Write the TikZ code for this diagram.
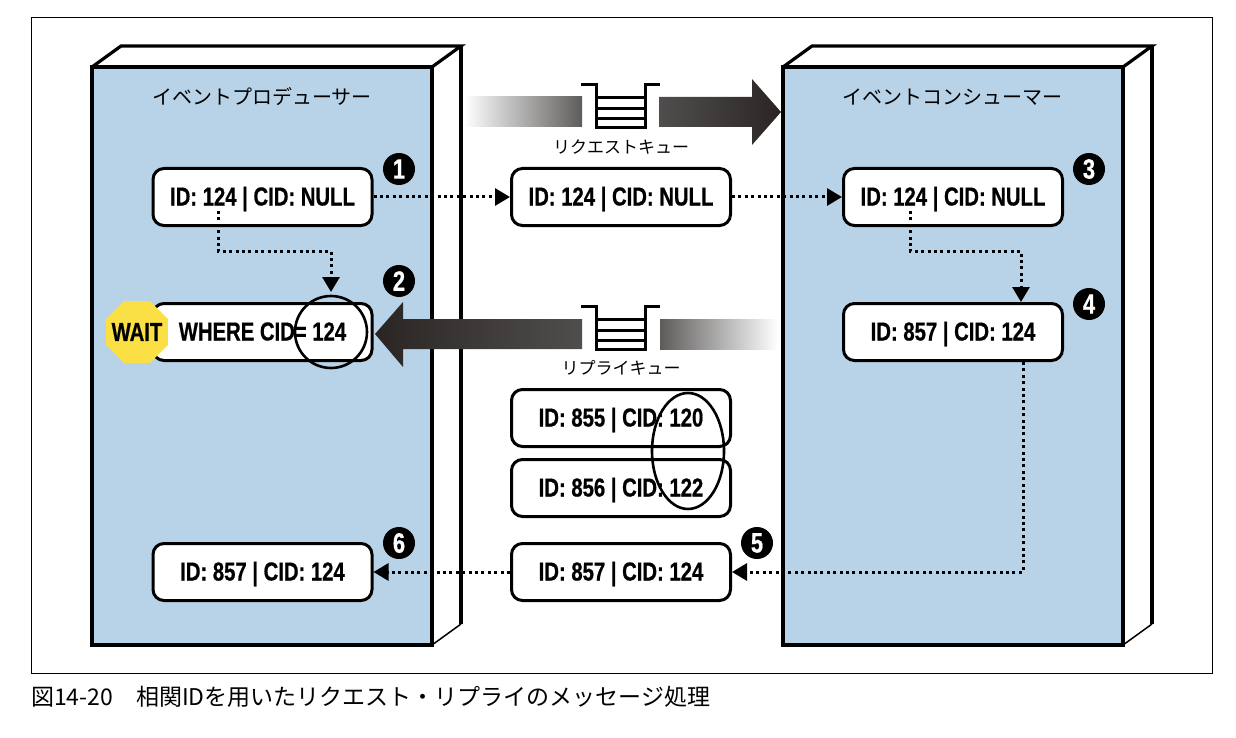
\documentclass[tikz,border=0pt]{standalone}
\usepackage{fontspec}
\setmainfont{Noto Sans CJK JP}
\newfontfamily\idfont[FakeStretch=0.78,BoldFeatures={FakeBold=0.6}]{Liberation Sans}
\usetikzlibrary{arrows.meta}
\usetikzlibrary{shapes.geometric}
\definecolor{panelblue}{HTML}{B8D3E8}
\definecolor{arrowdark}{HTML}{2A2523}
\definecolor{arrowmid}{HTML}{5E5C5B}
\definecolor{waityellow}{HTML}{FADF45}
\tikzset{
  panelline/.style={line width=3.2pt,line join=miter},
  msgbox/.style={draw,line width=3pt,fill=white,rounded corners=11pt,minimum width=219pt,minimum height=57pt,inner sep=0pt,text height=18pt,text depth=1pt,font=\idfont\bfseries\fontsize{26}{28}\selectfont},
  dotline/.style={line width=3pt,dash pattern=on 3pt off 3.4pt,-{Triangle[length=15pt,width=17pt]}},
  badge/.style={circle,fill=black,text=white,minimum size=32pt,inner sep=0pt,font=\idfont\bfseries\fontsize{28}{28}\selectfont},
  marker/.style={draw,line width=2.6pt},
  jplabel/.style={inner sep=0pt,font=\fontsize{#1}{#1}\selectfont},
  queueicon/.pic={
    \draw[line width=3pt] (-40,-27) -- (-25,-27) -- (-25,16) -- (24,16) -- (24,-27) -- (39,-27);
    \draw[line width=3pt] (-25,-14) -- (24,-14) (-25,-3) -- (24,-3) (-25,7) -- (24,7);
  }
}
\begin{document}
\begin{tikzpicture}[x=1pt,y=-1pt]
   \useasboundingbox (0,0) rectangle (1236,738);
   \draw[line width=1pt] (31,18) rectangle (1212,673);

   \foreach \px in {0,691} {
      \fill[white] (92+\px,67) -- (121+\px,46) -- (461+\px,46) -- (461+\px,624) -- (432+\px,645) -- cycle;
      \draw[panelline,fill=panelblue] (92+\px,67) rectangle (432+\px,645);
      \draw[panelline] (92+\px,67) -- (121+\px,46) -- (461+\px,46) -- (432+\px,67);
      \draw[panelline] (461+\px,46) -- (461+\px,624);
      \draw[line width=1.5pt] (461+\px,624) -- (432+\px,645);
   }
   \node[jplabel=20] (producer) at (262,97) {イベントプロデューサー};
   \node[jplabel=20] (consumer) at (952,97) {イベントコンシューマー};

   \shade[left color=white,right color=arrowmid] (464,97) rectangle (582,127);
   \shade[left color=arrowmid!85!black,right color=arrowdark] (659,97) -- (752,97) -- (752,79) -- (781,112) -- (752,145) -- (752,127) -- (659,127) -- cycle;
   \shade[left color=arrowdark,right color=arrowmid!85!black] (582,319) -- (403,319) -- (403,302) -- (375,334) -- (403,367) -- (403,349) -- (582,349) -- cycle;
   \shade[left color=arrowmid,right color=white] (660,319) rectangle (778,349);
   \pic at (621,112) {queueicon};
   \pic at (621,333) {queueicon};
   \node[jplabel=17] (reqqueue) at (621,147) {リクエストキュー};
   \node[jplabel=17] (repqueue) at (621,368) {リプライキュー};

   \node[msgbox] (reqA) at (262.5,197) {ID: 124 | CID: NULL};
   \node[msgbox] (reqB) at (621,197) {ID: 124 | CID: NULL};
   \node[msgbox] (reqC) at (953,197) {ID: 124 | CID: NULL};
   \node[msgbox] (where) at (262.5,332) {WHERE CID= 124};
   \node[msgbox] (repD) at (953,332) {ID: 857 | CID: 124};
   \node[msgbox] (repA) at (621,418) {ID: 855 | CID: 120};
   \node[msgbox] (repB) at (621,488) {ID: 856 | CID: 122};
   \node[msgbox] (repC) at (621,572) {ID: 857 | CID: 124};
   \node[msgbox] (repE) at (262.5,572) {ID: 857 | CID: 124};

   \node[regular polygon,regular polygon sides=8,fill=waityellow,minimum size=67pt,inner sep=-12pt,font=\idfont\bfseries\fontsize{26}{26}\selectfont] (wait) at (137,332) {WAIT};

   \coordinate (reqAout) at (218,211);
   \coordinate (reqCout) at (910,211);
   \coordinate (repDout) at (1023,362);
   \coordinate (wherein) at (331,292);
   \draw[dotline] (reqA.east) -- (reqB.west);
   \draw[dotline] (reqB.east) -- (reqC.west);
   \draw[dotline] (reqAout) -- (218,251) -- (331,251) -- (wherein);
   \draw[dotline] (reqCout) -- (910,251) -- (1021,251) -- (1021,302);
   \draw[dotline] (repDout) -- (1023,572) -- (repC.east);
   \draw[dotline] (repC.west) -- (repE.east);

   \node[marker,circle,minimum size=72pt,inner sep=0pt] (whereloop) at (331,332) {};
   \node[marker,ellipse,minimum width=72pt,minimum height=116pt,inner sep=0pt] (cidloop) at (688,451) {};

   \node[badge] (stepA) at (399,169) {1};
   \node[badge] (stepB) at (399,281) {2};
   \node[badge] (stepC) at (1089,169) {3};
   \node[badge] (stepD) at (1089,304) {4};
   \node[badge] (stepE) at (757,543) {5};
   \node[badge] (stepF) at (399,543) {6};

   \node[jplabel=23,anchor=base west] (caption) at (31,705) {図14-20　相関IDを用いたリクエスト・リプライのメッセージ処理};
\end{tikzpicture}
\end{document}
